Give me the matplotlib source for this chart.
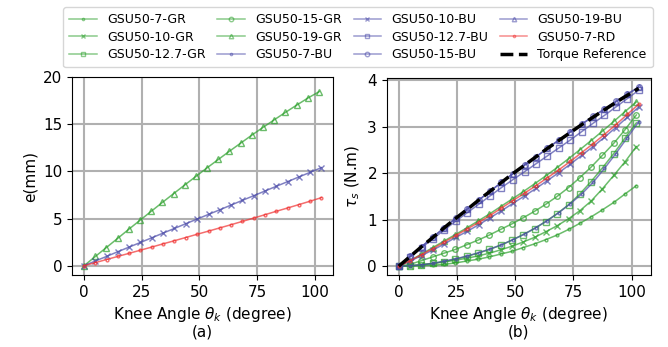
import numpy as np
import matplotlib
matplotlib.use('Agg')
import matplotlib.pyplot as plt

# knee angle samples (degree)
x_gr = [0, 4.9, 9.7, 14.6, 19.4, 24.3, 29.1, 34.0, 38.9, 43.7, 48.6, 53.4,
        58.3, 63.1, 68.0, 72.9, 77.7, 82.6, 87.4, 92.3, 97.1, 102.0]
x_bu = [0, 4.9, 9.8, 14.7, 19.6, 24.5, 29.4, 34.3, 39.2, 44.1, 49.0, 54.0,
        58.9, 63.8, 68.7, 73.6, 78.5, 83.4, 88.3, 93.2, 98.1, 103.0]

# (a) spring elongation e(mm)
e_gr19 = [0, 0.98, 1.93, 2.90, 3.86, 4.82, 5.76, 6.71, 7.65, 8.56, 9.48, 10.38,
          11.27, 12.14, 13.00, 13.86, 14.67, 15.48, 16.26, 17.03, 17.77, 18.45]
e_bu10 = [0, 0.50, 0.99, 1.49, 1.98, 2.47, 2.96, 3.46, 3.95, 4.45, 4.94, 5.44,
          5.93, 6.43, 6.93, 7.42, 7.92, 8.42, 8.91, 9.41, 9.90, 10.40]
e_rd7 = [0, 0.33, 0.66, 0.99, 1.32, 1.65, 1.98, 2.32, 2.65, 2.99, 3.33, 3.67,
         4.01, 4.35, 4.70, 5.05, 5.41, 5.77, 6.12, 6.48, 6.84, 7.22]

# (b) spring torque tau_s (N.m)
t_gr7 = [0, 0.0, 0.01, 0.02, 0.04, 0.07, 0.11, 0.15, 0.20, 0.26, 0.32, 0.40,
         0.48, 0.57, 0.67, 0.79, 0.92, 1.06, 1.21, 1.37, 1.55, 1.73]
t_gr10 = [0, 0.01, 0.03, 0.06, 0.09, 0.13, 0.17, 0.22, 0.28, 0.35, 0.43, 0.52,
          0.62, 0.74, 0.87, 1.02, 1.19, 1.40, 1.66, 1.95, 2.24, 2.57]
t_gr127 = [0, 0.01, 0.03, 0.06, 0.10, 0.15, 0.21, 0.28, 0.36, 0.45, 0.56, 0.68,
           0.81, 0.96, 1.13, 1.32, 1.55, 1.82, 2.11, 2.42, 2.75, 3.08]
t_gr15 = [0, 0.04, 0.12, 0.20, 0.28, 0.36, 0.46, 0.56, 0.67, 0.79, 0.91, 1.04,
          1.18, 1.33, 1.50, 1.69, 1.90, 2.13, 2.38, 2.64, 2.93, 3.25]
t_gr19 = [0, 0.12, 0.26, 0.40, 0.54, 0.68, 0.82, 0.97, 1.12, 1.28, 1.44, 1.60,
          1.77, 1.94, 2.12, 2.31, 2.50, 2.70, 2.90, 3.11, 3.32, 3.53]
t_bu7 = [0, 0.01, 0.03, 0.06, 0.11, 0.16, 0.22, 0.29, 0.37, 0.46, 0.57, 0.69,
         0.83, 0.98, 1.15, 1.34, 1.55, 1.80, 2.10, 2.42, 2.76, 3.10]
t_bu10 = [0, 0.11, 0.23, 0.35, 0.48, 0.62, 0.75, 0.89, 1.04, 1.19, 1.35, 1.51,
          1.67, 1.84, 2.01, 2.19, 2.38, 2.57, 2.77, 2.98, 3.20, 3.42]
t_bu127 = [0, 0.20, 0.40, 0.59, 0.78, 0.97, 1.15, 1.33, 1.51, 1.69, 1.86, 2.03,
           2.20, 2.37, 2.54, 2.71, 2.89, 3.07, 3.24, 3.42, 3.60, 3.78]
t_bu15 = [0, 0.21, 0.42, 0.63, 0.83, 1.03, 1.23, 1.42, 1.61, 1.80, 1.99, 2.17,
          2.35, 2.53, 2.71, 2.88, 3.05, 3.22, 3.38, 3.54, 3.70, 3.85]
t_bu19 = [0, 0.21, 0.42, 0.62, 0.83, 1.03, 1.22, 1.42, 1.61, 1.80, 1.99, 2.17,
          2.35, 2.53, 2.71, 2.88, 3.05, 3.21, 3.37, 3.53, 3.69, 3.84]
t_rd7 = [0, 0.12, 0.25, 0.38, 0.52, 0.66, 0.80, 0.94, 1.09, 1.25, 1.41, 1.57,
         1.73, 1.90, 2.07, 2.25, 2.44, 2.63, 2.83, 3.04, 3.26, 3.48]
t_ref = [0, 0.21, 0.42, 0.62, 0.83, 1.03, 1.22, 1.42, 1.61, 1.80, 1.99, 2.17,
         2.35, 2.53, 2.70, 2.87, 3.04, 3.20, 3.36, 3.52, 3.67, 3.82]

GR = '#2ca02c'
BU = '#4b4ba8'
RD = '#f03030'

plt.rcParams['font.family'] = 'DejaVu Sans'
plt.rcParams['font.size'] = 11

fig = plt.figure(figsize=(6.68, 3.47), dpi=100)
ax1 = fig.add_axes([0.108, 0.207, 0.391, 0.571])
ax2 = fig.add_axes([0.579, 0.207, 0.395, 0.568])

kw = dict(lw=1.1, ms=4, alpha=0.7, mfc='none', mew=1.0)

# (a)
ax1.plot(x_gr, e_gr19, color=GR, marker='^', **kw)
ax1.plot(x_bu, e_bu10, color=BU, marker='x', **kw)
ax1.plot(x_bu, e_rd7, color=RD, marker='.', **kw)
ax1.set_ylim(-1, 20)
ax1.set_yticks([0, 5, 10, 15, 20])
ax1.set_xticks([0, 25, 50, 75, 100])
ax1.set_ylabel('e(mm)')
ax1.set_xlabel(r'Knee Angle $\theta_k$ (degree)' + '\n(a)', linespacing=1.0)
ax1.grid(True, color='#b0b0b0', lw=1.5)
ax1.set_axisbelow(True)

# (b)
series = [
    (x_gr, t_gr7, GR, '.', 'GSU50-7-GR'),
    (x_gr, t_gr10, GR, 'x', 'GSU50-10-GR'),
    (x_gr, t_gr127, GR, 's', 'GSU50-12.7-GR'),
    (x_gr, t_gr15, GR, 'o', 'GSU50-15-GR'),
    (x_gr, t_gr19, GR, '^', 'GSU50-19-GR'),
    (x_bu, t_bu7, BU, '.', 'GSU50-7-BU'),
    (x_bu, t_bu10, BU, 'x', 'GSU50-10-BU'),
    (x_bu, t_bu127, BU, 's', 'GSU50-12.7-BU'),
    (x_bu, t_bu15, BU, 'o', 'GSU50-15-BU'),
    (x_bu, t_bu19, BU, '^', 'GSU50-19-BU'),
    (x_bu, t_rd7, RD, '.', 'GSU50-7-RD'),
]
for xs, ys, c, m, lab in series:
    ax2.plot(xs, ys, color=c, marker=m, label=lab, **kw)
ax2.plot(x_bu, t_ref, 'k--', lw=2.5, label='Torque Reference')
ax2.set_yticks([0, 1, 2, 3, 4])
ax2.set_xticks([0, 25, 50, 75, 100])
ax2.set_ylabel(r'$\tau_s$ (N.m)')
ax2.set_xlabel(r'Knee Angle $\theta_k$ (degree)' + '\n(b)', linespacing=1.0)
ax2.grid(True, color='#b0b0b0', lw=1.5)
ax2.set_axisbelow(True)

handles, labels = ax2.get_legend_handles_labels()
leg = fig.legend(handles, labels, loc='upper center', ncol=4, fontsize=9,
                 bbox_to_anchor=(0.536, 0.99), frameon=True, columnspacing=0.95,
                 handlelength=2.2, labelspacing=0.35, borderpad=0.5,
                 borderaxespad=0.3, markerscale=0.8)
for h in leg.legend_handles[:-1]:
    h.set_alpha(0.55)

fig.savefig('out.png', dpi=100)
